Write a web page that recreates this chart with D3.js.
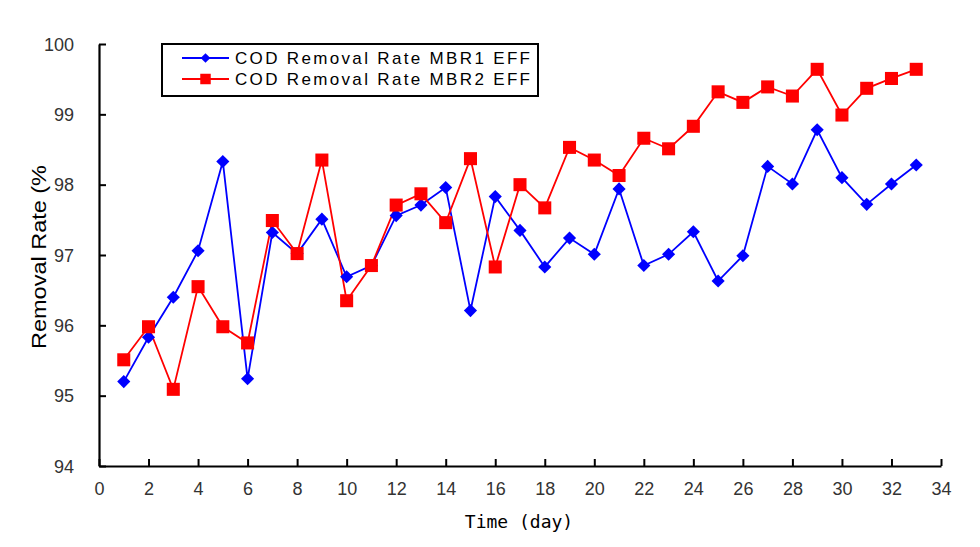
<!DOCTYPE html>
<html><head><meta charset="utf-8">
<script src="https://cdn.jsdelivr.net/npm/d3@7"></script>
<style>body{margin:0;background:#fff}svg{display:block}</style>
</head><body>
<svg id="c" width="980" height="547"></svg>
<script>
const days = d3.range(1, 34);
const mbr1 = [95.20,95.83,96.40,97.06,98.33,95.24,97.32,97.02,97.51,96.69,96.85,97.56,97.71,97.96,96.21,97.83,97.35,96.83,97.24,97.01,97.94,96.85,97.01,97.33,96.63,96.99,98.26,98.01,98.78,98.10,97.72,98.01,98.28];
const mbr2 = [95.51,95.98,95.09,96.55,95.98,95.75,97.49,97.02,98.35,96.35,96.85,97.71,97.87,97.46,98.37,96.83,98.00,97.67,98.53,98.35,98.13,98.66,98.51,98.83,99.32,99.17,99.39,99.26,99.64,98.99,99.37,99.51,99.64];
const seriesNames = ["COD Removal Rate MBR1 EFF","COD Removal Rate MBR2 EFF"];
const xTicks = d3.range(0, 35, 2);
const yTicks = [94,95,96,97,98,99,100];

const svg = d3.select("#c");
const x = d3.scaleLinear().domain([0,34]).range([99,941]);
const y = d3.scaleLinear().domain([94,100]).range([466,44]);
const font = "'Liberation Sans', Arial, sans-serif";

// axes
const xAxis = svg.append("g").attr("transform","translate(0,466)")
  .call(d3.axisBottom(x).tickValues(xTicks).tickFormat(d3.format("d")).tickSizeInner(-7).tickSizeOuter(0).tickPadding(16));
const yAxis = svg.append("g").attr("transform","translate(99,0)")
  .call(d3.axisLeft(y).tickValues(yTicks).tickFormat(d3.format("d")).tickSizeInner(-7).tickSizeOuter(0).tickPadding(25));
[xAxis,yAxis].forEach(a=>{
  a.select(".domain").attr("stroke","#000").attr("stroke-width",2.2);
  a.selectAll(".tick line").attr("stroke","#000").attr("stroke-width",2);
  a.selectAll(".tick text").attr("fill","#333").style("font-family",font).style("font-size","18px");
});
yAxis.selectAll(".tick text").attr("dy","0.35em");

// axis titles
svg.append("text").attr("x",519).attr("y",528).attr("text-anchor","middle")
  .style("font-family","'DejaVu Sans Mono', monospace").style("font-size","18px").attr("fill","#000")
  .text("Time (day)");
svg.append("text").attr("transform","translate(46,257) rotate(-90)").attr("text-anchor","middle")
  .style("font-family",font).style("font-size","20px").attr("fill","#000")
  .attr("textLength",184).attr("lengthAdjust","spacingAndGlyphs")
  .text("Removal Rate (%");

const line = d3.line().x((d,i)=>x(days[i])).y(d=>y(d));

svg.append("path").datum(mbr1).attr("d",line).attr("fill","none").attr("stroke","#0000FF").attr("stroke-width",1.8);
svg.append("path").datum(mbr2).attr("d",line).attr("fill","none").attr("stroke","#FF0000").attr("stroke-width",1.8);

const diamond = d3.symbol().type(d3.symbolDiamond2).size(110);
const square = d3.symbol().type(d3.symbolSquare).size(170);

svg.append("g").selectAll("path").data(mbr1).join("path")
  .attr("transform",(d,i)=>`translate(${x(days[i])},${y(d)})`)
  .attr("d",diamond).attr("fill","#0000FF");
svg.append("g").selectAll("path").data(mbr2).join("path")
  .attr("transform",(d,i)=>`translate(${x(days[i])},${y(d)})`)
  .attr("d",square).attr("fill","#FF0000");

// legend
const lg = svg.append("g");
lg.append("rect").attr("x",162).attr("y",44).attr("width",376).attr("height",52)
  .attr("fill","#fff").attr("stroke","#000").attr("stroke-width",2);
const colors = ["#0000FF","#FF0000"];
const syms = [d3.symbol().type(d3.symbolDiamond2).size(60), d3.symbol().type(d3.symbolSquare).size(110)];
[0,1].forEach(i=>{
  const yy = 58 + i*21;
  lg.append("line").attr("x1",182).attr("x2",229).attr("y1",yy).attr("y2",yy)
    .attr("stroke",colors[i]).attr("stroke-width",1.8);
  lg.append("path").attr("transform",`translate(205.5,${yy})`).attr("d",syms[i]).attr("fill",colors[i]);
  lg.append("text").attr("x",235).attr("y",yy).attr("dy","0.35em")
    .style("font-family",font).style("font-size","17px").attr("fill","#000")
    .attr("textLength",295).attr("lengthAdjust","spacing")
    .text(seriesNames[i]);
});
</script>
</body></html>
